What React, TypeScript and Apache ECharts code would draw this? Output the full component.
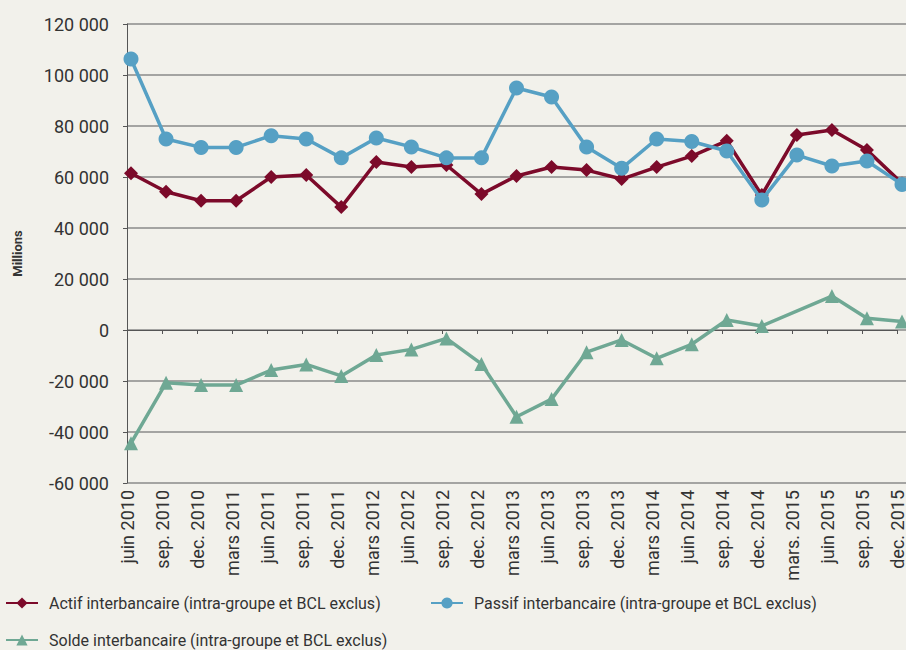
import React, { useEffect, useRef } from "react";
import * as echarts from "echarts";

const categories = [
  "juin 2010", "sep. 2010", "dec. 2010", "mars 2011", "juin 2011", "sep. 2011", "dec. 2011",
  "mars 2012", "juin 2012", "sep. 2012", "dec. 2012", "mars 2013", "juin 2013", "sep. 2013",
  "dec. 2013", "mars 2014", "juin 2014", "sep. 2014", "dec. 2014", "mars. 2015", "juin 2015",
  "sep. 2015", "dec. 2015",
];

const actif = [
  61500, 54200, 50700, 50700, 60000, 60800, 48200, 65900, 63900, 64700, 53300, 60400,
  63900, 62700, 59200, 63900, 68200, 74200, 52900, 76500, 78400, 70600, 57500,
];

const passif = [
  106300, 74900, 71600, 71600, 76200, 74900, 67500, 75300, 71800, 67500, 67500, 94900,
  91400, 71800, 63400, 74900, 73900, 70200, 51000, 68600, 64300, 66300, 57100,
];

const solde: (number | null)[] = [
  -44400, -20700, -21600, -21600, -15700, -13500, -18000, -9800, -7600, -3300, -13300, -34000,
  -27100, -8700, -3900, -11100, -5600, 3900, 1600, null, 13300, 4600, 3300,
];

const names = [
  "Actif interbancaire (intra-groupe et BCL exclus)",
  "Passif interbancaire (intra-groupe et BCL exclus)",
  "Solde interbancaire (intra-groupe et BCL exclus)",
];

const Y_MIN = -60000;
const Y_MAX = 120000;
const Y_STEP = 20000;

const RED = "#7c0a2a";
const BLUE = "#56a0c4";
const GREEN = "#6fa894";
const FONT = "Roboto";

export default function App() {
  const ref = useRef<HTMLDivElement>(null);
  useEffect(() => {
    if (!ref.current) return;
    const chart = echarts.init(ref.current, null, { renderer: "svg" });
    const legendText = { color: "#333", fontSize: 16, lineHeight: 16, fontFamily: FONT, padding: [0, 0, 0, 6] };
    const top = 24;
    const bottom = 167;
    const legendBase = { padding: 0, itemWidth: 32, itemHeight: 14, textStyle: legendText };
    chart.setOption({
      animation: false,
      backgroundColor: "#f2f1eb",
      textStyle: { fontFamily: FONT },
      grid: [
        { left: 127, right: 0, top, bottom },
        { left: 131, right: 4, top, bottom },
        { left: 127, right: 8, top, bottom },
      ],
      legend: [
        { ...legendBase, data: [names[0]], left: 5, top: 595 },
        { ...legendBase, data: [names[1]], left: 430, top: 595 },
        { ...legendBase, data: [names[2]], left: 5, top: 632 },
      ],
      xAxis: [
        {
          gridIndex: 0,
          type: "category",
          data: categories,
          show: false,
        },
        {
          gridIndex: 1,
          type: "category",
          data: categories,
          boundaryGap: false,
          show: false,
        },
        {
          gridIndex: 2,
          type: "category",
          data: categories,
          boundaryGap: false,
          position: "bottom",
          axisLine: { show: false, onZero: false },
          axisTick: { show: false },
          axisLabel: {
            rotate: 90,
            interval: 0,
            margin: 7,
            fontSize: 18,
            color: "#333",
            fontFamily: FONT,
          },
        },
        {
          gridIndex: 2,
          type: "category",
          data: categories,
          boundaryGap: false,
          position: "bottom",
          axisLine: { show: true, onZero: true, lineStyle: { color: "#555", width: 1 } },
          axisTick: { show: true, length: 4, interval: 0, lineStyle: { color: "#555" } },
          axisLabel: { show: false },
        },
      ],
      yAxis: [
        {
          gridIndex: 0,
          type: "value",
          min: Y_MIN,
          max: Y_MAX,
          interval: Y_STEP,
          name: "Millions",
          nameLocation: "middle",
          nameGap: 103,
          nameRotate: 90,
          nameTextStyle: { fontSize: 13, fontWeight: "bold", color: "#333", fontFamily: FONT },
          axisLine: { show: true, lineStyle: { color: "#555" } },
          axisTick: { show: true, length: 4, lineStyle: { color: "#555" } },
          axisLabel: {
            fontSize: 18,
            color: "#333",
            margin: 18,
            fontFamily: FONT,
            formatter: (v: number) => {
              const s = Math.abs(v).toString().replace(/\B(?=(\d{3})+(?!\d))/g, " ");
              return (v < 0 ? "-" : "") + s;
            },
          },
          splitLine: { show: true, lineStyle: { color: "#8a8a8a", width: 1.5 } },
        },
        {
          gridIndex: 1,
          type: "value",
          min: Y_MIN,
          max: Y_MAX,
          interval: Y_STEP,
          show: false,
          splitLine: { show: false },
        },
        {
          gridIndex: 2,
          type: "value",
          min: Y_MIN,
          max: Y_MAX,
          interval: Y_STEP,
          show: false,
          splitLine: { show: false },
        },
      ],
      series: [
        {
          name: names[0],
          type: "line",
          xAxisIndex: 1,
          yAxisIndex: 1,
          data: actif,
          symbol: "diamond",
          symbolSize: 14,
          itemStyle: { color: RED },
          lineStyle: { color: RED, width: 3.5 },
          z: 3,
        },
        {
          name: names[1],
          type: "line",
          xAxisIndex: 1,
          yAxisIndex: 1,
          data: passif,
          symbol: "circle",
          symbolSize: 15,
          itemStyle: { color: BLUE },
          lineStyle: { color: BLUE, width: 3.5 },
          z: 4,
        },
        {
          name: names[2],
          type: "line",
          xAxisIndex: 1,
          yAxisIndex: 1,
          data: solde,
          connectNulls: true,
          symbol: "triangle",
          symbolSize: 14,
          itemStyle: { color: GREEN },
          lineStyle: { color: GREEN, width: 3.5 },
          z: 3,
        },
      ],
    });
    return () => chart.dispose();
  }, []);
  return <div ref={ref} style={{ width: 906, height: 650, position: "absolute", left: 0, top: 0 }} />;
}
